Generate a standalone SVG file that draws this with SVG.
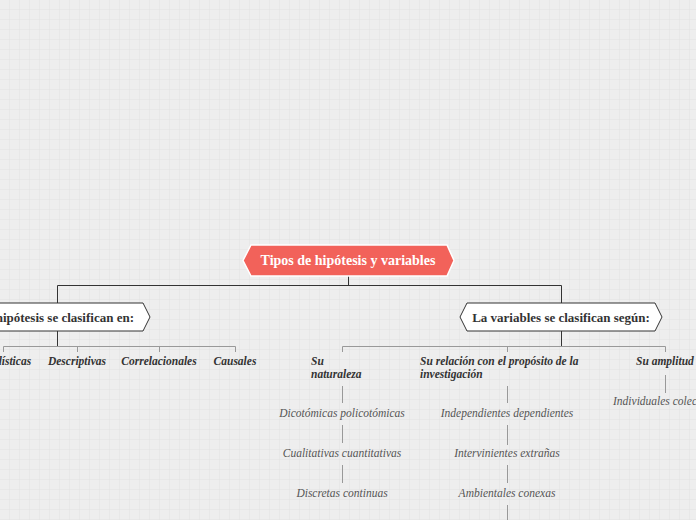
<svg xmlns="http://www.w3.org/2000/svg" width="696" height="520" viewBox="0 0 696 520" font-family="'Liberation Serif', serif">
<defs>
<pattern id="g" width="10" height="10" patternUnits="userSpaceOnUse"><path d="M10 0V10H0" fill="none" stroke="#e2e2e2" stroke-width="1"/></pattern>
<style>
text{font-family:"Liberation Serif",serif}
.h{font-size:13px;font-weight:bold;fill:#333}
.c{font-size:11.5px;font-weight:bold;font-style:italic;fill:#333}
.l{font-size:11.5px;font-style:italic;fill:#555}
.k{fill:none;stroke:#333;stroke-width:1}
.s{fill:none;stroke:#999;stroke-width:1}
</style>
</defs>
<rect width="696" height="520" fill="#eeeeee"/>
<rect width="696" height="520" fill="url(#g)"/>
<g id="connectors">
<path class="k" d="M348.5 276V285.5M57.5 303V285.5H561.5V303"/>
<path class="k" d="M57.5 331V346M561.5 331V346"/>
<path class="s" d="M3.5 352V346.5H235.5V352M77.5 346V352M159.5 346V352"/>
<path class="s" d="M342.5 352V346.5H665.5V352M507.5 346V352"/>
<path class="s" d="M342.5 386V403M342.5 425V443M342.5 465V483M507.5 386V403M507.5 425V445M507.5 465V483M507.5 505V520M665.5 375V393"/>
</g>
<g id="root"><polygon points="251,245 447,245 454,260.5 447,276 251,276 243,260.5" fill="#f2625a" stroke="#fff" stroke-width="1.5"/>
<text x="348" y="265" text-anchor="middle" font-size="14" font-weight="bold" fill="#fff">Tipos de hipótesis y variables</text></g>
<g id="hip"><polygon points="-20,303 143,303 150,317 143,331 -20,331" fill="#fff" stroke="#333"/>
<text class="h" x="134" y="321.5" text-anchor="end">Las hipótesis se clasifican en:</text></g>
<g id="var"><polygon points="467,303 655,303 662,317 655,331 467,331 460,317" fill="#fff" stroke="#333"/>
<text class="h" x="561" y="321.5" text-anchor="middle">La variables se clasifican según:</text></g>
<g id="h1"><text class="c" x="3" y="365" text-anchor="middle">Estadísticas</text></g>
<g id="h2"><text class="c" x="77" y="365" text-anchor="middle">Descriptivas</text></g>
<g id="h3"><text class="c" x="159" y="365" text-anchor="middle">Correlacionales</text></g>
<g id="h4"><text class="c" x="235" y="365" text-anchor="middle">Causales</text></g>
<g id="v1"><text class="c" x="311" y="365">Su</text><text class="c" x="311" y="378">naturaleza</text></g>
<g id="v2"><text class="c" x="420" y="365">Su relación con el propósito de la</text><text class="c" x="420" y="378">investigación</text></g>
<g id="v3"><text class="c" x="636" y="365">Su amplitud</text></g>
<g id="n1"><text class="l" x="342" y="417" text-anchor="middle">Dicotómicas policotómicas</text></g>
<g id="n2"><text class="l" x="342" y="457" text-anchor="middle">Cualitativas cuantitativas</text></g>
<g id="n3"><text class="l" x="342" y="497" text-anchor="middle">Discretas continuas</text></g>
<g id="n4"><text class="l" x="507" y="417" text-anchor="middle">Independientes dependientes</text></g>
<g id="n5"><text class="l" x="507" y="457" text-anchor="middle">Intervinientes extrañas</text></g>
<g id="n6"><text class="l" x="507" y="497" text-anchor="middle">Ambientales conexas</text></g>
<g id="n7"><text class="l" x="613" y="405">Individuales colectivas</text></g>
</svg>
